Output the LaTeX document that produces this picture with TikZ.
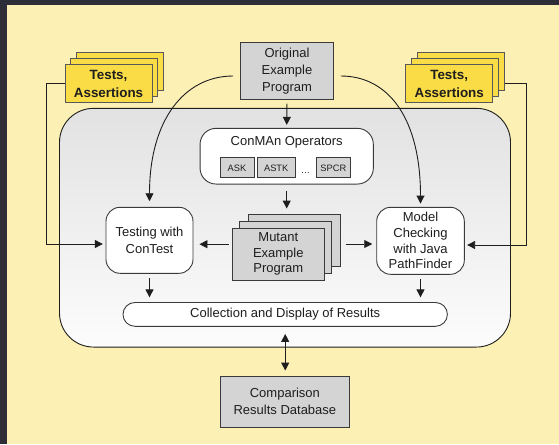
\documentclass[tikz,border=0pt]{standalone}
\usepackage{fontspec}
\setmainfont{Liberation Sans}
\usetikzlibrary{arrows.meta,shadings,calc}

\definecolor{framedark}{HTML}{2E2E38}
\definecolor{paper}{HTML}{FDF0B5}
\definecolor{card}{HTML}{F9DC46}
\definecolor{boxgray}{HTML}{D4D4D4}
\definecolor{ink}{HTML}{1E1E1E}
\definecolor{edge}{HTML}{3A3A3A}
\definecolor{stagetop}{HTML}{E2E2E2}
\definecolor{stagebottom}{HTML}{FCFCFC}

\tikzset{
  base/.style={draw=edge, line width=0.9pt, text=ink, align=center, inner sep=0pt,
    font=\fontsize{13}{17}\selectfont},
  graybox/.style={base, fill=boxgray},
  roundbox/.style={base, fill=white, rounded corners=14pt},
  testcard/.style={base, draw=edge!85, fill=card, minimum width=87pt, minimum height=37.5pt,
    font=\fontsize{13.4}{18}\selectfont\bfseries},
  mutcard/.style={graybox, minimum width=92pt, minimum height=52pt,
    font=\fontsize{13}{15.5}\selectfont},
  opbox/.style={base, fill=boxgray, minimum height=20pt, font=\fontsize{9.3}{11}\selectfont},
  arr/.style={draw=ink, line width=0.9pt, -{Triangle[length=8pt,width=8pt]}},
  twoway/.style={draw=ink, line width=0.9pt, {Triangle[length=8pt,width=8pt]}-{Triangle[length=8pt,width=8pt]}},
}

\begin{document}
\begin{tikzpicture}[x=1pt,y=-1pt]
  \useasboundingbox (0,0) rectangle (559,444);
  % backdrop
  \fill[framedark] (0,0) rectangle (559,444);
  \fill[paper] (7,5) rectangle (559,444);

  % shaded stage holding the analysis steps
  \node[draw=ink, line width=0.9pt, rounded corners=34pt, top color=stagetop, bottom color=stagebottom,
        minimum width=451pt, minimum height=238.7pt, inner sep=0pt] (stage) at (285,227.7) {};

  % original program
  \node[graybox, minimum width=92.7pt, minimum height=56.3pt] (orig) at (287,71) {Original\\Example\\Program};

  % test stacks
  \node[testcard] (tlb) at (119.95,71.6) {};
  \node[testcard] (tlm) at (114.25,77.6) {};
  \node[testcard] (tl)  at (108.55,83.6) {Tests,\\Assertions};
  \node[testcard] (trb) at (460.6,71.6) {};
  \node[testcard] (trm) at (454.9,77.6) {};
  \node[testcard] (tr)  at (449.2,83.6) {Tests,\\Assertions};

  % mutation operators
  \node[base, fill=white, rounded corners=16pt, minimum width=173.3pt, minimum height=55.7pt] (ops) at (286.7,156.2) {};
  \node[text=ink, inner sep=0pt, font=\fontsize{13}{16}\selectfont] (opstitle) at (286.7,142.7) {ConMAn Operators};
  \node[opbox, minimum width=34pt] (ask) at (237,167.8) {ASK};
  \node[opbox, minimum width=37.7pt] (astk) at (276.2,167.8) {ASTK};
  \node[text=ink, inner sep=0pt, font=\fontsize{9.3}{11}\selectfont] (dots) at (305.5,173.5) {\ldots};
  \node[opbox, minimum width=34.7pt] (spcr) at (333.4,167.8) {SPCR};

  % mutant program stack
  \node[mutcard] (mb) at (294.2,240) {};
  \node[mutcard] (mm) at (285.5,247) {};
  \node[mutcard] (mf) at (278.3,254.2) {Mutant\\Example\\Program};

  % testing and model checking
  \node[roundbox, minimum width=87pt, minimum height=66pt] (test) at (149.5,240.3) {Testing with\\ConTest};
  \node[roundbox, minimum width=87.6pt, minimum height=67pt, font=\fontsize{13}{15.7}\selectfont] (model) at (420.5,240.8)
    {Model\\Checking\\with Java\\PathFinder};

  % results
  \node[base, fill=white, rounded corners=11.9pt, minimum width=324.4pt, minimum height=23.8pt] (coll) at (285.2,314.4)
    {Collection and Display of Results};
  \node[graybox, minimum width=129pt, minimum height=51pt] (comp) at (284.9,401.8) {Comparison\\Results Database};

  % connectors
  \draw[arr, shorten <=4pt, shorten >=3pt] (orig.south) -- (ops.north);
  \draw[arr, shorten <=6pt, shorten >=5pt] (ops.south) -- (ops.south |- mb.north);

  \coordinate (mleft) at ([yshift=10pt]mf.west);
  \coordinate (mright) at ([yshift=-4pt]mb.east);
  \draw[arr, shorten <=3.3pt, shorten >=6pt] (mleft) -- (test.east |- mleft);
  \draw[arr, shorten <=5pt, shorten >=4pt] (mright) -- (model.west |- mright);

  \coordinate (oleft) at ([shift={(-7pt,-5pt)}]orig.west);
  \coordinate (oright) at ([shift={(7pt,-5pt)}]orig.east);
  \draw[arr, shorten >=5.6pt] (oleft) .. controls +(-48.5,0) and +(0,-87.3) .. (test.north);
  \draw[arr, shorten >=3.3pt] (oright) .. controls +(48.5,0) and +(0,-87.3) .. (model.north);

  \coordinate (lbend) at (46.7,244);
  \coordinate (rbend) at (526,245);
  \draw[arr, shorten >=2.7pt] (tl.west) -| (lbend) -- (test.west |- lbend);
  \draw[arr, shorten >=2.4pt] (trb.east |- tr.east) -| (rbend) -- (model.east |- rbend);

  \draw[arr, shorten <=4.7pt, shorten >=4.7pt] (test.south) -- (test.south |- coll.north);
  \draw[arr, shorten <=4.7pt, shorten >=4.7pt] (model.south) -- (model.south |- coll.north);
  \draw[twoway, shorten <=7.2pt, shorten >=5.3pt] (coll.south) -- (coll.south |- comp.north);
\end{tikzpicture}
\end{document}
